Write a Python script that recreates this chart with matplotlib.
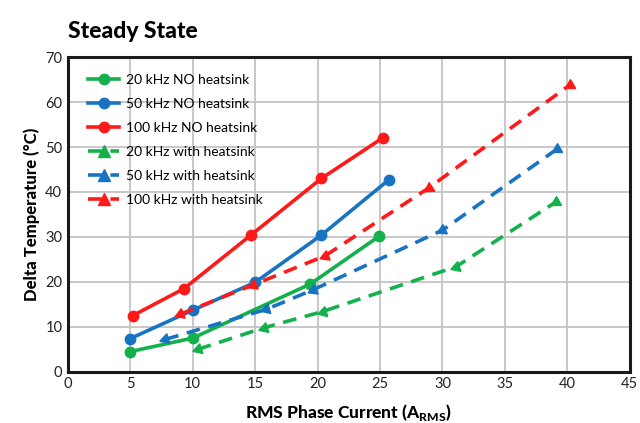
import numpy as np
import matplotlib
matplotlib.use("Agg")
import matplotlib.pyplot as plt

plt.rcParams['font.family'] = ['Lato', 'DejaVu Sans']

# NO heatsink (solid, circles)
x_20_no = [5.0, 10.0, 19.4, 24.9]
y_20_no = [4.5, 7.5, 19.5, 30.1]
x_50_no = [5.0, 10.0, 15.0, 20.3, 25.7]
y_50_no = [7.4, 13.7, 19.9, 30.4, 42.7]
x_100_no = [5.2, 9.3, 14.7, 20.3, 25.2]
y_100_no = [12.5, 18.5, 30.5, 43.0, 52.0]

# with heatsink (dashed, triangles)
x_20_hs = [10.4, 15.7, 20.4, 31.1, 39.1]
y_20_hs = [5.0, 9.8, 13.4, 23.4, 37.8]
x_50_hs = [7.8, 15.9, 19.6, 30.0, 39.2]
y_50_hs = [7.2, 13.9, 18.2, 31.5, 49.6]
x_100_hs = [9.0, 14.8, 20.6, 28.9, 40.25]
y_100_hs = [12.8, 19.3, 25.8, 40.9, 63.9]

GREEN = '#13b04b'
BLUE = '#1873c3'
RED = '#ff1a1a'

fig = plt.figure(figsize=(6.4, 4.23), dpi=100)
ax = fig.add_axes([0.106, 0.121, 0.878, 0.744])
ax.set_xlim(0, 45)
ax.set_ylim(0, 70)

lw = 2.6
ax.plot(x_20_no, y_20_no, '-', color=GREEN, lw=lw, marker='o', ms=7.5, label='20 kHz NO heatsink')
ax.plot(x_50_no, y_50_no, '-', color=BLUE, lw=lw, marker='o', ms=7.5, label='50 kHz NO heatsink')
ax.plot(x_100_no, y_100_no, '-', color=RED, lw=lw, marker='o', ms=7.5, label='100 kHz NO heatsink')

dash = (3.8, 2.4)
for xs, ys, c, lab in [(x_20_hs, y_20_hs, GREEN, '20 kHz with heatsink'),
                       (x_50_hs, y_50_hs, BLUE, '50 kHz with heatsink'),
                       (x_100_hs, y_100_hs, RED, '100 kHz with heatsink')]:
    ax.plot(xs, ys, '--', color=c, lw=lw, dashes=dash)
    # legend proxy
    ax.plot([], [], '--', color=c, lw=lw, dashes=dash, marker='^', ms=8.5, label=lab)
    # arrow-like triangles pointing back along the line, last one upright
    pts = ax.transData.transform(np.column_stack([xs, ys]))
    for i in range(len(xs)):
        if i == len(xs) - 1:
            ang = 0
        else:
            if i == 0:
                d = pts[0] - pts[1]
            else:
                d = pts[i - 1] - pts[i]
            ang = np.degrees(np.arctan2(d[1], d[0])) - 90
        ax.plot(xs[i], ys[i], marker=(3, 0, ang), ms=8.5, color=c, ls='none')

ax.set_xticks(np.arange(0, 46, 5))
ax.set_yticks(np.arange(0, 71, 10))
ax.grid(True, color='#c4c4c4', lw=1.3)
ax.set_axisbelow(True)
ax.tick_params(length=0, labelsize=10.5, pad=4, colors='#222222')
for s in ax.spines.values():
    s.set_linewidth(2.2)
    s.set_color('#1a1a1a')

ax.set_xlabel('RMS Phase Current (A$_\\mathregular{RMS}$)', fontsize=12.5, fontweight=900, labelpad=8)
ax.set_ylabel('Delta Temperature (°C)', fontsize=12, fontweight=900, labelpad=4)
fig.text(0.106, 0.925, 'Steady State', fontsize=16.5, fontweight=900, va='center', ha='left')

ax.legend(loc='upper left', bbox_to_anchor=(0.012, 0.99), frameon=False, fontsize=10,
          handlelength=2.2, labelspacing=0.86, borderaxespad=0.6, handletextpad=0.5)

fig.savefig('out.png', dpi=100)
